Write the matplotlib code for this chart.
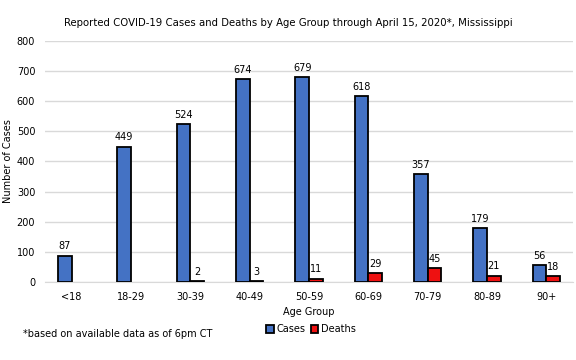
import matplotlib
matplotlib.use("Agg")
import matplotlib.pyplot as plt
import numpy as np

categories = ["<18", "18-29", "30-39", "40-49", "50-59", "60-69", "70-79", "80-89", "90+"]
cases = [87, 449, 524, 674, 679, 618, 357, 179, 56]
deaths = [0, 0, 2, 3, 11, 29, 45, 21, 18]
yticks = [0, 100, 200, 300, 400, 500, 600, 700, 800]

plt.rcParams['font.family'] = ['DejaVu Sans']
fig = plt.figure(figsize=(5.76, 3.6), dpi=100)
ax = fig.add_axes([0.078, 0.217, 0.917, 0.669])

x = np.arange(len(categories))
w = 0.23
ax.bar(x - w/2, cases, w, color="#4472C4", edgecolor="black", linewidth=1.3, label="Cases", zorder=3)
dvals = [d if d > 0 else np.nan for d in deaths]
ax.bar(x + w/2, dvals, w, color="#EE1111", edgecolor="black", linewidth=1.3, label="Deaths", zorder=3)

for xi, v in zip(x, cases):
    ax.text(xi - w/2, v + 14, str(v), ha="center", va="bottom", fontsize=7, zorder=4)
for xi, v in zip(x, deaths):
    if v > 0:
        ax.text(xi + w/2, v + 14, str(v), ha="center", va="bottom", fontsize=7, zorder=4)

ax.set_ylim(0, 800)
ax.set_xlim(-0.45, len(categories) - 0.55)
ax.set_yticks(yticks)
ax.set_yticklabels([str(t) for t in yticks], fontsize=7)
ax.set_xticks(x)
ax.set_xticklabels(categories, fontsize=7)
ax.tick_params(axis="y", length=0, pad=7)
ax.tick_params(axis="x", length=0, pad=7)
ax.yaxis.grid(True, color="#D9D9D9", linewidth=1, zorder=0)
ax.set_axisbelow(True)
for s in ["top", "right", "left"]:
    ax.spines[s].set_visible(False)
ax.spines["bottom"].set_color("#D9D9D9")
ax.set_ylabel("Number of Cases", fontsize=7, labelpad=3)
ax.set_xlabel("Age Group", fontsize=7, labelpad=4)

fig.text(0.5, 0.935, "Reported COVID-19 Cases and Deaths by Age Group through April 15, 2020*, Mississippi",
         ha="center", va="center", fontsize=7.3)
fig.text(0.04, 0.072, "*based on available data as of 6pm CT", ha="left", va="center", fontsize=7)
fig.legend(loc="center", bbox_to_anchor=(0.54, 0.085), ncol=2, frameon=False, fontsize=7,
           handlelength=0.8, handleheight=0.8, handletextpad=0.3, columnspacing=0.5)

fig.savefig("out.png", dpi=100)
